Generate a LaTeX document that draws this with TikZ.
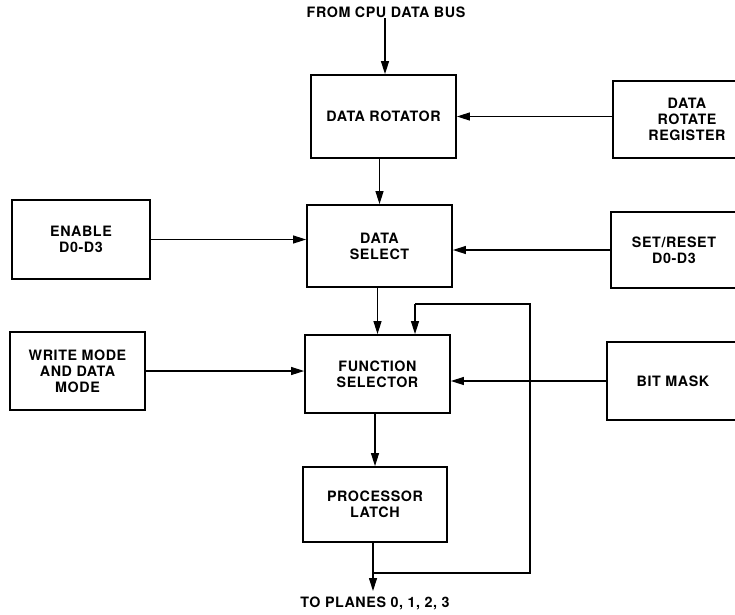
\documentclass[tikz,border=0pt]{standalone}
\usepackage{fontspec}
\setmainfont{TeX Gyre Heros}[LetterSpace=4.0]
\usetikzlibrary{arrows.meta}
\begin{document}
\begin{tikzpicture}[x=1pt,y=-1pt,
  blk/.style={draw, line width=1.8pt, align=center, inner sep=0pt,
    font=\bfseries\fontsize{14.3}{16}\selectfont},
  lbl/.style={align=center, inner sep=0pt, font=\bfseries\fontsize{14.3}{16}\selectfont},
  conn/.style={line width=1.1pt, -{Triangle[length=13pt,width=8pt]}},
  wire/.style={line width=1.1pt}]
\useasboundingbox (0,0) rectangle (735,614);
\clip (0,0) rectangle (735,614);
% blocks
\node[blk, minimum width=145pt, minimum height=83pt] (rot) at (383.5,116.5) {DATA ROTATOR};
\node[blk, minimum width=148pt, minimum height=77pt] (drr) at (687,119.5) {DATA\\ROTATE\\REGISTER};
\node[blk, minimum width=145pt, minimum height=82pt] (sel) at (379.5,246) {DATA\\SELECT};
\node[blk, minimum width=138pt, minimum height=79pt] (ena) at (81,239.5) {ENABLE\\D0-D3};
\node[blk, minimum width=126pt, minimum height=76pt] (srs) at (674,250) {SET/RESET\\D0-D3};
\node[blk, minimum width=135pt, minimum height=78pt] (wm) at (77.5,371) {WRITE MODE\\AND DATA\\MODE};
\node[blk, minimum width=145pt, minimum height=78pt] (fs) at (377.5,374) {FUNCTION\\SELECTOR};
\node[blk, minimum width=132pt, minimum height=78pt] (bm) at (673,381) {BIT MASK};
\node[blk, minimum width=144pt, minimum height=75pt] (pl) at (375,504.5) {PROCESSOR\\LATCH};
% labels
\node[lbl, anchor=north] (src) at (386,7) {FROM CPU DATA BUS};
\node[lbl, anchor=north] (dst) at (375,597) {TO PLANES 0, 1, 2, 3};
% coordinates
\coordinate (j) at (373,573);
\coordinate (fbr) at (530,573);
\coordinate (fbt) at (530,304);
\coordinate (fbl) at (415,304);
\coordinate (out) at (373,591);
% connectors
\draw[conn] (src.south -| 385,0) -- (385,0 |- rot.north);
\draw[conn] (drr.west |- rot.east) -- (rot.east);
\draw[conn] (sel.north |- rot.south) -- (sel.north);
\draw[conn] (ena.east) -- (ena.east -| sel.west);
\draw[conn] (srs.west) -- (srs.west -| sel.east);
\draw[conn] (fs.north |- sel.south) -- (fs.north);
\draw[conn] (wm.east) -- (wm.east -| fs.west);
\draw[conn] (bm.west) -- (bm.west -| fs.east);
\draw[conn] (pl.north |- fs.south) -- (pl.north);
\draw[conn] (pl.south -| out) -- (out);
\draw[wire] (j) -- (fbr) -- (fbt) -- (fbl);
\draw[conn] (fbl) -- (fbl |- fs.north);
\end{tikzpicture}
\end{document}
